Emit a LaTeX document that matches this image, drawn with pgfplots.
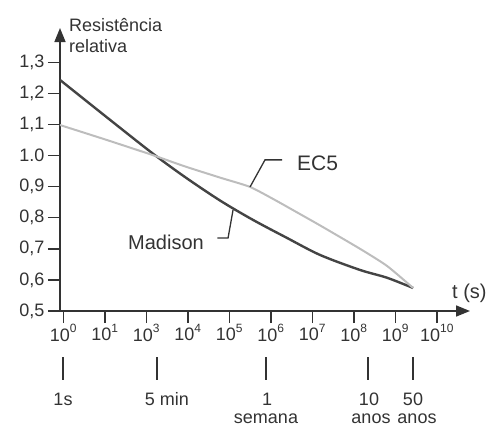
\documentclass[border=0pt]{standalone}
\usepackage{pgfplots}
\pgfplotsset{compat=1.18}
\usepackage{fontspec}
\setmainfont{Liberation Sans}
\usetikzlibrary{arrows.meta}
\definecolor{ink}{HTML}{333333}
\definecolor{madison}{HTML}{444444}
\definecolor{ecfive}{HTML}{BDBDBD}
\newcommand\ex[1]{\raisebox{0.45em}{\fontsize{12}{12}\selectfont#1}}

\begin{document}
\begin{tikzpicture}[x=1pt,y=1pt]
\begin{axis}[
  name=ax, scale only axis,
  width=410pt, height=283pt,
  xmin=-0.08, xmax=9.8, ymin=0.5, ymax=1.41,
  axis lines=left,
  axis line style={ink, line width=1.6pt, -{Triangle[length=14pt,width=11pt]}},
  tick align=outside, major tick length=12pt,
  tick style={ink, line width=1.4pt},
  xtick={0,1,2,3,4,5,6,7,8,9},
  xticklabels={10\ex{0},10\ex{1},10\ex{3},10\ex{4},10\ex{5},10\ex{6},10\ex{7},10\ex{8},10\ex{9},10\ex{10}},
  ytick={0.5,0.6,0.7,0.8,0.9,1.0,1.1,1.2,1.3},
  yticklabels={{0,5},{0,6},{0,7},{0,8},{0,9},{1.0},{1,1},{1,2},{1,3}},
  tick label style={font=\fontsize{18}{21}\selectfont, text=ink},
  xticklabel style={yshift=2pt},
  clip=false,
]
% Madison
\addplot[madison, line width=2.4pt, smooth, tension=0.5] coordinates {
  (-0.08,1.243) (1,1.128) (2.14,1.008) (2.93,0.931) (3.78,0.855) (4.57,0.793)
  (5.39,0.735) (6.19,0.680) (7.15,0.632) (7.8,0.607) (8.43,0.574)};
% EC5
\addplot[ecfive, line width=2pt, smooth, tension=0.35] coordinates {
  (-0.08,1.098) (1,1.052) (2.14,1.002) (2.93,0.965) (3.8,0.928) (4.5,0.899)
  (5.1,0.857) (5.7,0.812) (6.19,0.775) (7.15,0.700) (7.8,0.645) (8.43,0.574)};
% leader lines
\draw[ink, line width=1.3pt] (axis cs:4.5,0.899) -- (axis cs:4.86,0.986) -- (axis cs:5.27,0.986);
\draw[ink, line width=1.3pt] (axis cs:4.09,0.825) -- (axis cs:3.97,0.735) -- (axis cs:3.71,0.735);
\end{axis}
\begin{scope}[shift={(ax.south west)}, every node/.style={text=ink, inner sep=0pt, font=\fontsize{18}{21}\selectfont}]
  \path (-60,-115) rectangle (434,311);
  \node[anchor=base west] at (9,279) {Resistência};
  \node[anchor=base west] at (9,258) {relativa};
  \node[anchor=base west, font=\fontsize{20}{24}\selectfont] at (392,13) {t (s)};
  \node[anchor=base west, font=\fontsize{21}{24}\selectfont] at (237,141) {EC5};
  \node[anchor=base east, font=\fontsize{20}{24}\selectfont] at (144,62) {Madison};
  \foreach \x in {3,97,206,308,353} \draw[ink, line width=1.3pt] (\x,-46) -- (\x,-69);
  \node[anchor=base] at (3,-94) {1s};
  \node[anchor=base] at (107,-94) {5 min};
  \node[anchor=base] at (207,-94) {1};
  \node[anchor=base] at (309,-94) {10};
  \node[anchor=base] at (353,-94) {50};
  \node[anchor=base] at (206,-112) {semana};
  \node[anchor=base] at (311,-112) {anos};
  \node[anchor=base] at (357,-112) {anos};
\end{scope}
\end{tikzpicture}
\end{document}
